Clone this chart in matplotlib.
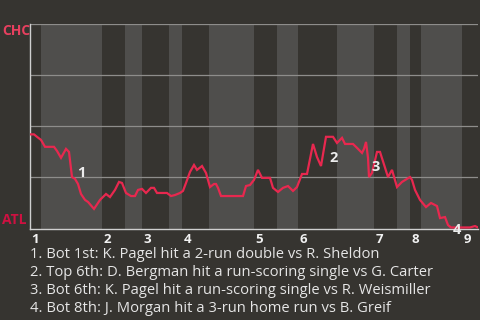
import matplotlib
matplotlib.use("Agg")
import matplotlib.pyplot as plt

# game progress (x) and CHC win probability in % (y)
progress = [0, 4, 7, 11, 15, 24, 27, 31, 36, 39, 42, 45, 48, 51, 55, 58, 64,
            70, 76, 80, 85, 89, 92, 96, 101, 105, 108, 112, 116, 121, 124, 127,
            137, 141, 145, 150, 153, 156, 160, 164, 167, 172, 176, 180, 184,
            186, 188, 191, 213, 216, 220, 224, 228, 232, 240, 243, 248, 253,
            258, 263, 267, 272, 277, 283, 287, 291, 296, 303, 307, 312, 315,
            323, 327, 332, 334, 336, 338, 339, 342, 347, 350, 358, 362, 367,
            372, 380, 382, 385, 390, 396, 401, 407, 410, 415, 418, 421, 440,
            445, 448]
chc_wp = [46.1, 46.1, 44.9, 43.4, 40.0, 40.0, 38.0, 34.6, 39.0, 37.5, 25.2,
          24.3, 21.8, 16.9, 14.0, 13.0, 9.6, 14.0, 16.9, 15.4, 18.9, 22.8,
          22.3, 17.4, 15.9, 15.9, 18.9, 19.4, 17.4, 19.9, 19.9, 17.4, 17.4,
          15.9, 16.4, 17.4, 18.4, 22.3, 27.7, 31.1, 28.7, 30.6, 27.2, 20.3,
          21.8, 21.8, 19.9, 15.9, 15.9, 20.8, 21.3, 23.8, 28.7, 24.8, 24.8,
          19.9, 17.9, 19.9, 20.8, 18.4, 20.3, 26.7, 26.7, 41.4, 35.0, 30.6,
          44.9, 44.9, 41.9, 44.4, 41.4, 41.4, 39.5, 37.0, 39.0, 42.4, 34.6,
          25.2, 27.2, 37.5, 37.5, 25.2, 28.7, 20.3, 22.8, 25.2, 23.8, 18.9,
          14.0, 10.5, 12.5, 11.0, 5.1, 5.6, 1.7, 0.5, 0.5, 1.2, 0.5]

# half-inning boundaries (top 1st ... top 9th, then end of game)
half_innings = [0, 11, 72, 95, 112, 139, 152, 179, 224, 247, 268, 307, 344,
                367, 380, 391, 432, 448]
innings = ["1", "2", "3", "4", "5", "6", "7", "8", "9"]

# key plays: index into the series, label
key_idx = [10, 65, 77, 95]
key_labels = ["1", "2", "3", "4"]
key_offsets = [(4, 3), (6, 6), (2, 7), (1, -2)]
notes = [
    "1. Bot 1st: K. Pagel hit a 2-run double vs R. Sheldon",
    "2. Top 6th: D. Bergman hit a run-scoring single vs G. Carter",
    "3. Bot 6th: K. Pagel hit a run-scoring single vs R. Weismiller",
    "4. Bot 8th: J. Morgan hit a 3-run home run vs B. Greif",
]

bg = "#363430"
band = "#4f4e4c"
red = "#e8284f"
plt.rcParams["font.family"] = ["Open Sans", "DejaVu Sans"]

fig = plt.figure(figsize=(4.8, 3.2), dpi=100, facecolor=bg)
ax = fig.add_axes([30 / 480, 1 - 228.5 / 320, 448 / 480, 204.2 / 320])
ax.set_facecolor(bg)
ax.set_xlim(half_innings[0], half_innings[-1])
ax.set_ylim(0, 100)

# bottom halves are shaded lighter
for a, b in zip(half_innings[1::2], half_innings[2::2]):
    ax.axvspan(a, b, color=band, lw=0, zorder=0)

for g in [25, 50, 75, 100]:
    ax.axhline(g, color="#8e8d8b", lw=0.9, zorder=1)

ax.plot(progress, chc_wp, color=red, lw=1.6, zorder=3, solid_joinstyle="miter")

for i, lab, (dx, dy) in zip(key_idx, key_labels, key_offsets):
    ax.annotate(lab, (progress[i], chc_wp[i]), xytext=(dx, dy),
                textcoords="offset points", ha="left", va="center",
                color="#ececec", fontsize=10.5, fontweight="bold", zorder=4)

for x, lab in zip(half_innings[0::2], innings):
    ax.annotate(lab, (x, 0), xytext=(1, -3.5), textcoords="offset points",
                ha="left", va="top", color="#f2f2f2", fontsize=9.5,
                fontweight="bold", annotation_clip=False)

for s in ["top", "right"]:
    ax.spines[s].set_visible(False)
for s in ["left", "bottom"]:
    ax.spines[s].set_color("#cfcfcf")
    ax.spines[s].set_linewidth(1.0)
ax.set_xticks([])
ax.set_yticks([])

fig.text(2 / 480, 1 - 31 / 320, "CHC", color="#e8405f", fontsize=10,
         fontweight="bold", ha="left", va="center")
fig.text(2 / 480, 1 - 220 / 320, "ATL", color="#ce1141", fontsize=10,
         fontweight="bold", ha="left", va="center")

for k, note in enumerate(notes):
    fig.text(30.5 / 480, 1 - (258.5 + 18 * k) / 320, note, color="#e6e6e6",
             fontsize=10.6, ha="left", va="baseline")

fig.savefig("out.png", dpi=100, facecolor=bg)
